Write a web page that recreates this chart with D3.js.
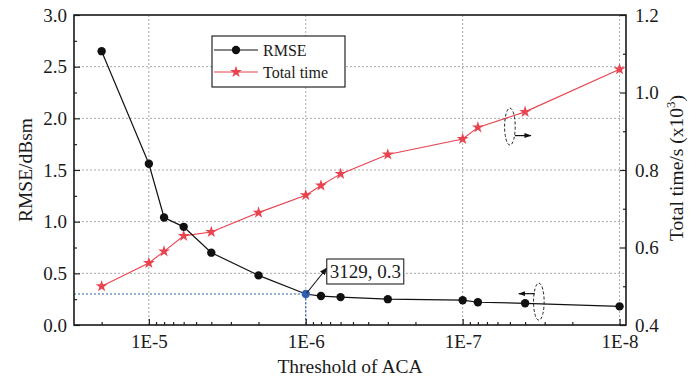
<!DOCTYPE html>
<html>
<head>
<meta charset="utf-8">
<script src="https://cdn.jsdelivr.net/npm/d3@7/dist/d3.min.js"></script>
<style>
  html, body { margin: 0; padding: 0; background: #fff; }
  svg { display: block; }
  svg text { font-family: "Liberation Serif", "Times New Roman", Times, "DejaVu Serif", serif !important; fill: #1a1a1a; }
</style>
</head>
<body>
<div id="chart"></div>
<script>
// ACA threshold sweep: RMSE and total solve time
const thresholds = [2e-5, 1e-5, 8e-6, 6e-6, 4e-6, 2e-6, 1e-6, 8e-7, 6e-7, 3e-7, 1e-7, 8e-8, 4e-8, 1e-8];
const rmse       = [2.65, 1.56, 1.04, 0.95, 0.70, 0.48, 0.30, 0.28, 0.27, 0.25, 0.24, 0.22, 0.21, 0.18];
const totalTime  = [0.50, 0.56, 0.59, 0.63, 0.64, 0.69, 0.735, 0.76, 0.79, 0.84, 0.88, 0.91, 0.95, 1.06];

const xTickValues = [1e-5, 1e-6, 1e-7, 1e-8];
const xTickLabels = ["1E-5", "1E-6", "1E-7", "1E-8"];
const yLeftTicks  = [0, 0.5, 1.0, 1.5, 2.0, 2.5, 3.0];
const yRightTicks = [0.4, 0.6, 0.8, 1.0, 1.2];

const highlight = { threshold: 1e-6, rmse: 0.3, label: "3129, 0.3" };
const seriesNames = ["RMSE", "Total time"];

const FONT = '"Liberation Serif", "Times New Roman", Times, serif';
const W = 699, H = 381;
const M = { left: 74, right: 73, top: 15, bottom: 56 };
const RED = "#e8434f", BLUE = "#2f5faf";

const svg = d3.select("#chart").append("svg").attr("width", W).attr("height", H)
  .style("font-family", FONT);

const x = d3.scaleLog().domain([3e-5, 9.1e-9]).range([M.left, W - M.right]);
const yL = d3.scaleLinear().domain([0, 3]).range([H - M.bottom, M.top]);
const yR = d3.scaleLinear().domain([0.4, 1.2]).range([H - M.bottom, M.top]);

const x0 = M.left, x1 = W - M.right, yb = H - M.bottom, yt = M.top;

// dotted grid
const grid = svg.append("g").attr("stroke", "#a8a8a8").attr("stroke-width", 1)
  .attr("stroke-dasharray", "2,2").attr("fill", "none");
xTickValues.forEach(v => grid.append("line").attr("x1", x(v)).attr("x2", x(v)).attr("y1", yt).attr("y2", yb));
yLeftTicks.filter(v => v > 0 && v < 3).forEach(v =>
  grid.append("line").attr("x1", x0).attr("x2", x1).attr("y1", yL(v)).attr("y2", yL(v)));

// guide lines to the highlighted point
const hx = x(highlight.threshold), hy = yL(highlight.rmse);
const guide = svg.append("g").attr("stroke", BLUE).attr("stroke-width", 1.1)
  .attr("stroke-dasharray", "2,2");
guide.append("line").attr("x1", x0).attr("x2", hx).attr("y1", hy).attr("y2", hy);
guide.append("line").attr("x1", hx).attr("x2", hx).attr("y1", hy).attr("y2", yb);

// minor log ticks
const minorX = [];
for (let e = -9; e <= -4; e++) for (let m = 1; m <= 9; m++) {
  const v = m * Math.pow(10, e);
  if (v <= 3e-5 && v >= 9.1e-9) minorX.push({ v, major: m === 1 });
}

function styleLabels(g, size) {
  g.select(".domain").remove();
  g.attr("font-family", null).attr("font-size", null);
  g.selectAll("text").attr("font-size", size).style("font-family", FONT).attr("fill", "#1a1a1a");
}

// axes: bottom (inward ticks)
const gx = svg.append("g").attr("transform", `translate(0,${yb})`)
  .call(d3.axisBottom(x).tickValues(minorX.map(d => d.v)).tickFormat("").tickSizeOuter(0));
gx.selectAll(".tick line").attr("y2", (d) => (minorX.find(m => m.v === d).major ? -6 : -3))
  .attr("stroke", "#222").attr("stroke-width", 1.2);
gx.select(".domain").remove();
const gxl = svg.append("g").attr("transform", `translate(0,${yb})`)
  .call(d3.axisBottom(x).tickValues(xTickValues).tickFormat((d, i) => xTickLabels[i]).tickSize(0).tickPadding(10));
styleLabels(gxl, 19);

// left axis
const yLMinor = d3.range(0, 3.001, 0.25);
const gyl = svg.append("g").attr("transform", `translate(${x0},0)`)
  .call(d3.axisLeft(yL).tickValues(yLMinor).tickFormat("").tickSizeOuter(0));
gyl.select(".domain").remove();
gyl.selectAll(".tick line").attr("x2", d => (Math.abs(d * 2 - Math.round(d * 2)) < 1e-6 ? 6 : 3))
  .attr("stroke", "#222").attr("stroke-width", 1.2);
const gyll = svg.append("g").attr("transform", `translate(${x0},0)`)
  .call(d3.axisLeft(yL).tickValues(yLeftTicks).tickFormat(d3.format(".1f")).tickSize(0).tickPadding(7));
styleLabels(gyll, 19);

// right axis
const yRMinor = d3.range(0.4, 1.2001, 0.1);
const gyr = svg.append("g").attr("transform", `translate(${x1},0)`)
  .call(d3.axisRight(yR).tickValues(yRMinor).tickFormat("").tickSizeOuter(0));
gyr.select(".domain").remove();
gyr.selectAll(".tick line").attr("x2", (d, i) => (i % 2 === 0 ? -6 : -3))
  .attr("stroke", "#222").attr("stroke-width", 1.2);
const gyrl = svg.append("g").attr("transform", `translate(${x1},0)`)
  .call(d3.axisRight(yR).tickValues(yRightTicks).tickFormat(d3.format(".1f")).tickSize(0).tickPadding(9));
styleLabels(gyrl, 19);

// frame
svg.append("rect").attr("x", x0).attr("y", yt).attr("width", x1 - x0).attr("height", yb - yt)
  .attr("fill", "none").attr("stroke", "#1a1a1a").attr("stroke-width", 1.6);

// axis titles
svg.append("text").attr("transform", `translate(32,170) rotate(-90)`)
  .attr("text-anchor", "middle").attr("font-size", 19.5).text("RMSE/dBsm");
const rt = svg.append("text").attr("transform", `translate(683,168) rotate(-90)`)
  .attr("text-anchor", "middle").attr("font-size", 19.5);
rt.append("tspan").text("Total time/s (x10");
rt.append("tspan").attr("dy", -8).attr("font-size", 13).text("3");
rt.append("tspan").attr("dy", 8).text(")");
svg.append("text").attr("x", (x0 + x1) / 2).attr("y", 373).attr("text-anchor", "middle")
  .attr("font-size", 19.5).text("Threshold of ACA");

// series
const rmsePts = thresholds.map((t, i) => [t, rmse[i]]);
const timePts = thresholds.map((t, i) => [t, totalTime[i]]);

svg.append("path").datum(timePts).attr("fill", "none").attr("stroke", RED).attr("stroke-width", 1.1)
  .attr("d", d3.line().x(d => x(d[0])).y(d => yR(d[1])));
svg.append("path").datum(rmsePts).attr("fill", "none").attr("stroke", "#111").attr("stroke-width", 1.2)
  .attr("d", d3.line().x(d => x(d[0])).y(d => yL(d[1])));

const star = d3.symbol().type(d3.symbolStar).size(44);
svg.append("g").selectAll("path").data(timePts).join("path")
  .attr("d", star).attr("fill", RED)
  .attr("transform", d => `translate(${x(d[0])},${yR(d[1])})`);

svg.append("g").selectAll("circle").data(rmsePts).join("circle")
  .attr("cx", d => x(d[0])).attr("cy", d => yL(d[1])).attr("r", 4.2)
  .attr("fill", d => (d[0] === highlight.threshold ? BLUE : "#111"));

// annotation for the chosen threshold
const defs = svg.append("defs");
defs.append("marker").attr("id", "arrow").attr("viewBox", "0 0 10 10").attr("refX", 9).attr("refY", 5)
  .attr("markerWidth", 7).attr("markerHeight", 7).attr("orient", "auto")
  .append("path").attr("d", "M0,1 L10,5 L0,9 Z").attr("fill", "#111");
defs.append("marker").attr("id", "arrowSmall").attr("viewBox", "0 0 10 10").attr("refX", 9).attr("refY", 5)
  .attr("markerWidth", 6).attr("markerHeight", 6).attr("orient", "auto")
  .append("path").attr("d", "M0,1.5 L10,5 L0,8.5 Z").attr("fill", "#111");

svg.append("line").attr("x1", hx + 1).attr("y1", hy - 1).attr("x2", hx + 21).attr("y2", hy - 26)
  .attr("stroke", "#111").attr("stroke-width", 1.1).attr("marker-end", "url(#arrow)");
svg.append("rect").attr("x", hx + 21).attr("y", hy - 35).attr("width", 77).attr("height", 25)
  .attr("fill", "#fff").attr("stroke", "#222").attr("stroke-width", 1.1);
svg.append("text").attr("x", hx + 24).attr("y", hy - 16).attr("font-size", 19).text(highlight.label);

// series ownership marks: dashed ellipses with arrows toward each axis
function ownerMark(cx, cy, dir) {
  svg.append("ellipse").attr("cx", cx).attr("cy", cy).attr("rx", 5.3).attr("ry", 18.5)
    .attr("fill", "none").attr("stroke", "#222").attr("stroke-width", 1).attr("stroke-dasharray", "3,2");
  const ay = cy + (dir > 0 ? 9 : -8);
  const sx = cx + (dir > 0 ? 5 : -4);
  svg.append("line").attr("x1", sx).attr("y1", ay).attr("x2", sx + dir * 16).attr("y2", ay)
    .attr("stroke", "#111").attr("stroke-width", 1.2).attr("marker-end", "url(#arrowSmall)");
}
ownerMark(x(5e-8), yR(0.912), 1);
ownerMark(x(3.27e-8), yL(0.226), -1);

// legend
const lg = svg.append("g").attr("transform", "translate(212,36)");
lg.append("rect").attr("width", 133).attr("height", 51).attr("fill", "#fff")
  .attr("stroke", "#111").attr("stroke-width", 1.1);
lg.append("line").attr("x1", 2).attr("x2", 46).attr("y1", 14).attr("y2", 14).attr("stroke", "#111").attr("stroke-width", 1.2);
lg.append("circle").attr("cx", 24).attr("cy", 14).attr("r", 4.2).attr("fill", "#111");
lg.append("text").attr("x", 51).attr("y", 20).attr("font-size", 16).text(seriesNames[0]);
lg.append("line").attr("x1", 2).attr("x2", 46).attr("y1", 36).attr("y2", 36).attr("stroke", RED).attr("stroke-width", 1.1);
lg.append("path").attr("d", star).attr("fill", RED).attr("transform", "translate(24,36)");
lg.append("text").attr("x", 51).attr("y", 42).attr("font-size", 16).text(seriesNames[1]);
</script>
</body>
</html>
